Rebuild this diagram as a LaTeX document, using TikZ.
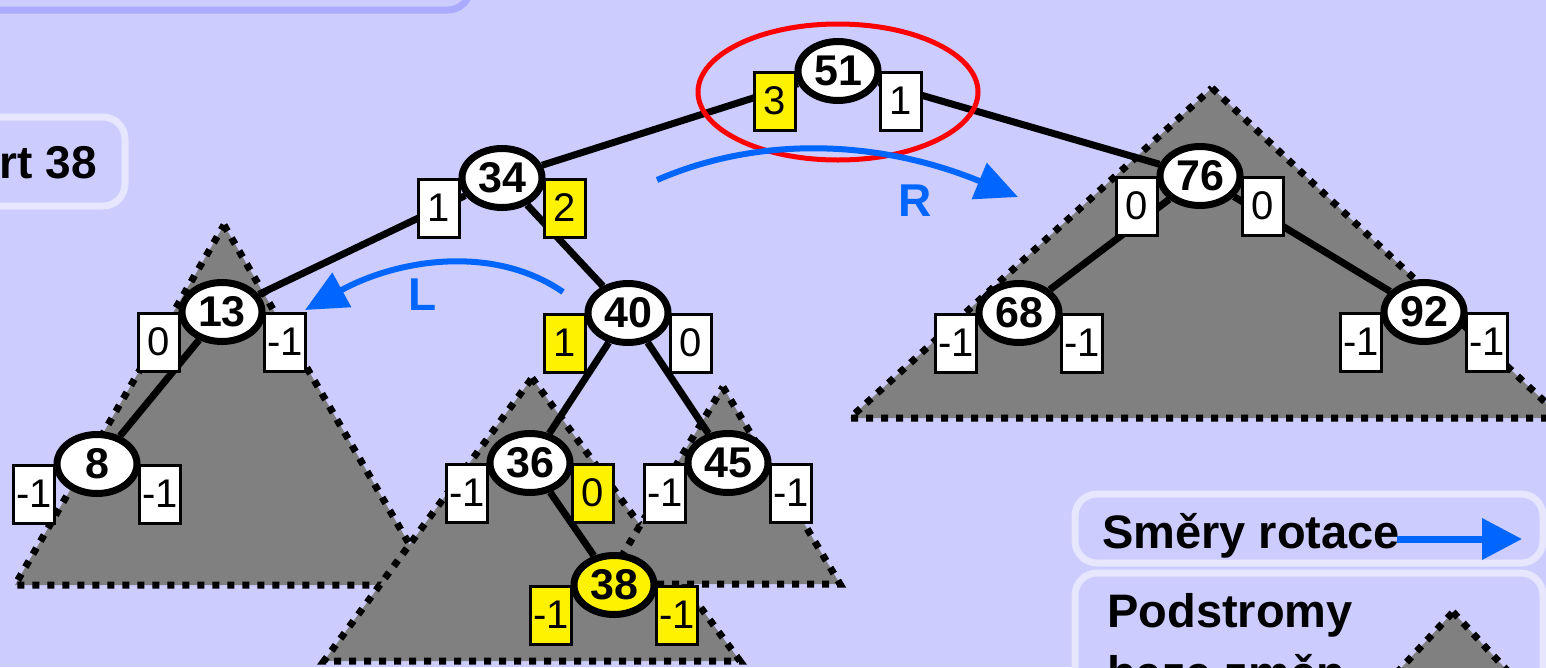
\documentclass[tikz,border=0pt]{standalone}
\usepackage{fontspec}
\setmainfont{Liberation Sans}
\usetikzlibrary{positioning,arrows.meta,shapes.geometric}
\definecolor{slidebg}{RGB}{204,204,255}
\definecolor{framedark}{RGB}{170,170,255}
\definecolor{framelight}{RGB}{230,230,255}
\definecolor{rotblue}{RGB}{0,102,255}
\pgfdeclarelayer{back}
\pgfdeclarelayer{links}
\pgfsetlayers{back,links,main}

\begin{document}
\begin{tikzpicture}[x=1pt, y=1pt, node distance=63pt,
                    knot/.style={ellipse, draw, line width=7pt, fill=white, minimum width=80pt, minimum height=59pt, inner sep=0pt, font=\fontsize{43}{43}\selectfont\bfseries},
                    balbox/.style={rectangle, draw, line width=3pt, fill=white, minimum width=41pt, minimum height=58pt, inner sep=0pt, font=\fontsize{40}{40}\selectfont},
                    subtree/.style={fill=gray, draw=black, line width=7pt, dash pattern=on 7pt off 8pt},
                    link/.style={line width=7pt},
                    rotarrow/.style={rotblue, line width=6pt, -{Triangle[length=42pt, width=38pt]}},
                    rotlabel/.style={text=rotblue, font=\fontsize{46}{46}\selectfont\bfseries},
                    panel/.style={rounded corners=22pt, line width=7pt, draw=framelight, fill=slidebg}]
  \useasboundingbox (0,0) rectangle (1546,-667);
  % tree
  \node[knot] (n51) at (838,-71) {51};
  \node[knot] (n34) at (502,-178) {34};
  \node[knot] (n13) at (222,-312) {13};
  \node[knot] (n8) at (97,-464) {8};
  \node[knot] (n40) at (628,-313) {40};
  \node[knot] (n36) at (530,-463) {36};
  \node[knot] (n45) at (728,-463) {45};
  \node[knot, fill=yellow] (n38) at (614,-585) {38};
  \node[knot] (n76) at (1200,-176) {76};
  \node[knot] (n68) at (1019,-313) {68};
  \node[knot] (n92) at (1424,-312) {92};
  % balance boxes
  \node[balbox, fill=yellow, left of=n51, yshift=-30pt] (b51l) {3};
  \node[balbox, right of=n51, yshift=-30pt] (b51r) {1};
  \node[balbox, left of=n34, yshift=-30pt] (b34l) {1};
  \node[balbox, fill=yellow, right of=n34, yshift=-30pt] (b34r) {2};
  \node[balbox, left of=n13, yshift=-30pt] (b13l) {0};
  \node[balbox, right of=n13, yshift=-30pt] (b13r) {-1};
  \node[balbox, left of=n8, yshift=-30pt] (b8l) {-1};
  \node[balbox, right of=n8, yshift=-30pt] (b8r) {-1};
  \node[balbox, fill=yellow, left of=n40, yshift=-30pt] (b40l) {1};
  \node[balbox, right of=n40, yshift=-30pt] (b40r) {0};
  \node[balbox, left of=n36, yshift=-30pt] (b36l) {-1};
  \node[balbox, fill=yellow, right of=n36, yshift=-30pt] (b36r) {0};
  \node[balbox, left of=n45, yshift=-30pt] (b45l) {-1};
  \node[balbox, right of=n45, yshift=-30pt] (b45r) {-1};
  \node[balbox, fill=yellow, left of=n38, yshift=-30pt] (b38l) {-1};
  \node[balbox, fill=yellow, right of=n38, yshift=-30pt] (b38r) {-1};
  \node[balbox, left of=n76, yshift=-30pt] (b76l) {0};
  \node[balbox, right of=n76, yshift=-30pt] (b76r) {0};
  \node[balbox, left of=n68, yshift=-30pt] (b68l) {-1};
  \node[balbox, right of=n68, yshift=-30pt] (b68r) {-1};
  \node[balbox, left of=n92, yshift=-30pt] (b92l) {-1};
  \node[balbox, right of=n92, yshift=-30pt] (b92r) {-1};
  % texts
  \node[anchor=base east, font=\fontsize{46}{46}\selectfont\bfseries, inner sep=0pt] (op) at (97,-178) {rt 38};
  \node[anchor=base west, font=\fontsize{47}{47}\selectfont\bfseries, inner sep=0pt] (legrot) at (1102,-548) {Směry rotace};
  \node[anchor=base west, font=\fontsize{47}{47}\selectfont\bfseries, inner sep=0pt] (legsub) at (1107,-627) {Podstromy};
  \node[anchor=base west, font=\fontsize{47}{47}\selectfont\bfseries, inner sep=0pt] (legsub2) at (1107,-689) {beze změn};
  \begin{pgfonlayer}{back}
    \fill[slidebg] (0,0) rectangle (1546,-667);
    \draw[panel, draw=framedark] (-60,60) rectangle (470,-10);
    \draw[panel] (-60,-117) rectangle (125,-206);
    \draw[panel] (1075,-494) rectangle (1543,-563);
    \draw[panel] (1075,-573) rectangle (1543,-760);
    \filldraw[subtree] (1453,-612) -- (1576,-745) -- (1330,-745) -- cycle;
    \filldraw[subtree] (224,-225) -- (433,-585) -- (15,-585) -- cycle;
    \filldraw[subtree] (532,-378) -- (740,-661) -- (324,-661) -- cycle;
    \filldraw[subtree] (723,-387) -- (840,-584) -- (605,-584) -- cycle;
    \filldraw[subtree] (1212,-88) -- (1562,-418) -- (850,-418) -- cycle;
  \end{pgfonlayer}
  \begin{pgfonlayer}{links}
    \draw[link] (n51) -- (n34);
    \draw[link] (n51) -- (n76);
    \draw[link] (n34) -- (n13);
    \draw[link] (n34) -- (n40);
    \draw[link] (n13) -- (n8);
    \draw[link] (n40) -- (n36);
    \draw[link] (n40) -- (n45);
    \draw[link] (n36) -- (n38);
    \draw[link] (n76) -- (n68);
    \draw[link] (n76) -- (n92);
  \end{pgfonlayer}
  % critical node
  \draw[red, line width=5pt] (838,-92) ellipse [x radius=140pt, y radius=68pt];
  % rotations
  \coordinate (rstart) at (657,-180);
  \coordinate (rend) at (1018,-197);
  \draw[rotarrow] (rstart) .. controls (760,-135) and (880,-140) .. (rend);
  \node[rotlabel] (rlab) at (915,-201) {R};
  \coordinate (lstart) at (563,-292);
  \coordinate (lend) at (305,-310);
  \draw[rotarrow] (lstart) .. controls (495,-245) and (400,-258) .. (lend);
  \node[rotlabel] (llab) at (423,-295) {L};
  \coordinate (legstart) at (1397,-539);
  \coordinate (legend) at (1522,-539);
  \draw[rotarrow, line width=7pt, -{Triangle[length=40pt, width=40pt]}] (legstart) -- (legend);
\end{tikzpicture}
\end{document}
